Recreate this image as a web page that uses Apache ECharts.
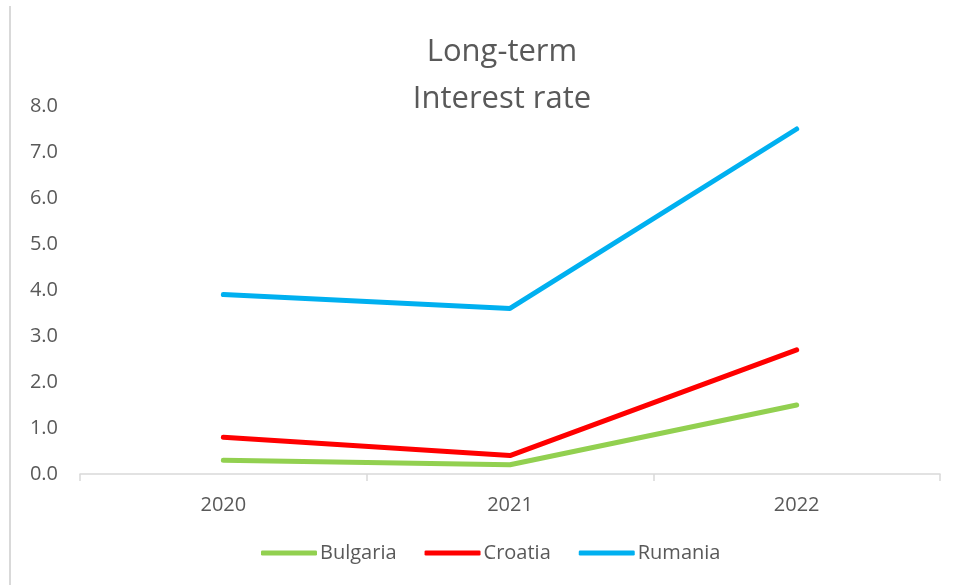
<!DOCTYPE html>
<html>
<head>
<meta charset="utf-8">
<script src="https://cdn.jsdelivr.net/npm/echarts@6/dist/echarts.min.js"></script>
<style>
  html, body { margin: 0; padding: 0; background: #fff; }
  #chart { width: 956px; height: 585px; }
</style>
</head>
<body>
<div id="chart"></div>
<script>
// data
const years = ['2020', '2021', '2022'];
const bulgaria = [0.3, 0.2, 1.5];
const croatia = [0.8, 0.4, 2.7];
const rumania = [3.9, 3.6, 7.5];

const font = '"Open Sans", "Noto Sans", sans-serif';
const chart = echarts.init(document.getElementById('chart'), null, { renderer: 'canvas' });

function lineSeries(name, data, color) {
  return {
    name: name, type: 'line', data: data,
    symbol: 'none', showSymbol: false,
    lineStyle: { color: color, width: 5, cap: 'round', join: 'round' },
    itemStyle: { color: color }
  };
}

chart.setOption({
  backgroundColor: '#fff',
  animation: false,
  title: {
    text: 'Long-term\nInterest rate',
    left: 497, top: 24, textAlign: 'center',
    textStyle: { fontFamily: font, fontSize: 31, fontWeight: 'normal', color: '#595959', lineHeight: 47 }
  },
  // thin frame line at the left edge
  graphic: [{
    type: 'rect', shape: { x: 9, y: 6, width: 2, height: 585 },
    style: { fill: '#d9d9d9' }, silent: true
  }],
  legend: {
    top: 538, left: 256,
    itemWidth: 56, itemHeight: 5, itemGap: 28,
    icon: 'roundRect',
    textStyle: { fontFamily: font, fontSize: 20, color: '#595959', padding: [0, 0, 0, -2] },
    data: ['Bulgaria', 'Croatia', 'Rumania']
  },
  grid: { left: 80, right: 16, top: 106, bottom: 111, containLabel: false },
  xAxis: {
    type: 'category', data: years, boundaryGap: true,
    axisLine: { lineStyle: { color: '#d9d9d9', width: 1.5 } },
    axisTick: { show: true, length: 7, lineStyle: { color: '#d9d9d9', width: 1.5 } },
    axisLabel: { fontFamily: font, fontSize: 20, color: '#595959', margin: 21 }
  },
  yAxis: {
    type: 'value', min: 0, max: 8, interval: 1,
    axisLine: { show: false }, axisTick: { show: false },
    splitLine: { show: false },
    axisLabel: { fontFamily: font, fontSize: 20, color: '#595959', margin: 22,
      formatter: v => v.toFixed(1) }
  },
  series: [
    lineSeries('Bulgaria', bulgaria, '#92d050'),
    lineSeries('Croatia', croatia, '#ff0000'),
    lineSeries('Rumania', rumania, '#00b0f0')
  ]
});
</script>
</body>
</html>
